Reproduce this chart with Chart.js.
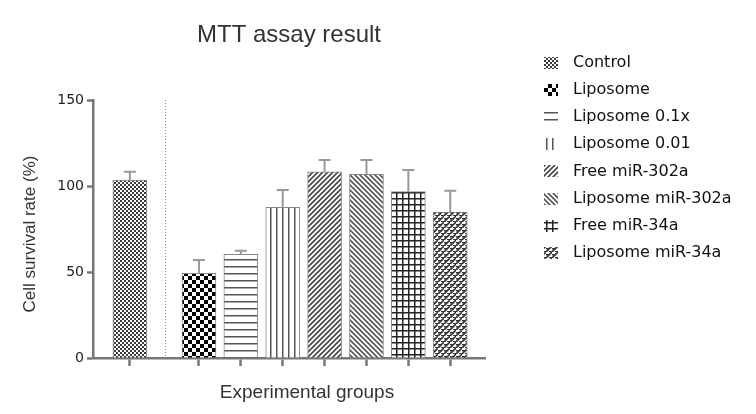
<!DOCTYPE html>
<html>
<head>
<meta charset="utf-8">
<script src="https://cdn.jsdelivr.net/npm/chart.js@4.4.1/dist/chart.umd.min.js"></script>
<style>
  body { margin: 0; background: #fff; }
</style>
</head>
<body>
<canvas id="chart" width="756" height="414"></canvas>
<script>
const groups = ['Control', 'Liposome', 'Liposome 0.1x', 'Liposome 0.01', 'Free miR-302a', 'Liposome miR-302a', 'Free miR-34a', 'Liposome miR-34a'];
const survival = [103.5, 49.2, 60.3, 87.6, 108.3, 106.8, 96.7, 84.9];
const errorUp = [4.8, 7.8, 2.1, 10.1, 6.8, 8.3, 12.6, 12.4];
const yTicks = [0, 50, 100, 150];

// control sits alone, then a gap before the treated groups
function pos(i) { return i === 0 ? 0 : i + 0.65; }
const dividerAt = 0.835;

function tile(size, draw) {
  let c = document.createElement('canvas');
  c.width = size; c.height = size;
  let g = c.getContext('2d');
  g.fillStyle = '#fff';
  g.fillRect(0, 0, size, size);
  draw(g, size);
  return document.getElementById('chart').getContext('2d').createPattern(c, 'repeat');
}

function checker(cell, col) {
  return tile(cell * 2, (g) => {
    g.fillStyle = col;
    g.fillRect(0, 0, cell, cell);
    g.fillRect(cell, cell, cell, cell);
  });
}

function diag(s, col, back) {
  return tile(s, (g) => {
    g.strokeStyle = col;
    g.lineWidth = 1.6;
    let segs = back ? [[0, 0, s, s], [-1, s - 1, 1, s + 1], [s - 1, -1, s + 1, 1]]
                    : [[0, s, s, 0], [-1, 1, 1, -1], [s - 1, s + 1, s + 1, s - 1]];
    segs.forEach(p => { g.beginPath(); g.moveTo(p[0], p[1]); g.lineTo(p[2], p[3]); g.stroke(); });
  });
}

const patterns = [
  checker(2, '#3a3a3a'),
  checker(4, '#000'),
  tile(7, (g) => { g.fillStyle = '#555'; g.fillRect(0, 0, 7, 1.5); }),
  tile(6, (g) => { g.fillStyle = '#555'; g.fillRect(0, 0, 1.5, 6); }),
  diag(5, '#444', false),
  diag(5, '#555', true),
  tile(6, (g) => { g.fillStyle = '#222'; g.fillRect(0, 0, 6, 1.5); g.fillRect(0, 0, 1.5, 6); }),
  tile(6, (g) => {
    g.strokeStyle = '#333'; g.lineWidth = 1.6;
    g.beginPath(); g.moveTo(0, 6); g.lineTo(6, 0); g.stroke();
    g.fillStyle = '#333'; g.fillRect(0, 2, 3, 1.5); g.fillRect(3, 5, 3, 1.5);
  })
];

const extras = {
  id: 'extras',
  afterDatasetsDraw(chart) {
    const ctx = chart.ctx, ys = chart.scales.y, xs = chart.scales.x;
    ctx.save();
    // divider
    ctx.strokeStyle = '#888';
    ctx.lineWidth = 1;
    ctx.setLineDash([1, 2]);
    let dx = Math.round(xs.getPixelForValue(dividerAt)) + 0.5;
    ctx.beginPath(); ctx.moveTo(dx, chart.chartArea.top); ctx.lineTo(dx, chart.chartArea.bottom); ctx.stroke();
    ctx.setLineDash([]);
    // error bars, upper only
    ctx.strokeStyle = '#999';
    ctx.lineWidth = 2;
    chart.data.datasets.forEach((ds, i) => {
      let bar = chart.getDatasetMeta(i).data[0];
      let top = ys.getPixelForValue(survival[i] + errorUp[i]);
      ctx.beginPath();
      ctx.moveTo(bar.x, bar.y); ctx.lineTo(bar.x, top);
      ctx.moveTo(bar.x - 6, top); ctx.lineTo(bar.x + 6, top);
      ctx.stroke();
    });
    ctx.restore();
  },
  afterDraw(chart) {
    const ctx = chart.ctx, a = chart.chartArea;
    ctx.save();
    ctx.fillStyle = '#333';
    ctx.textAlign = 'center';
    ctx.textBaseline = 'alphabetic';
    ctx.font = '24px "Liberation Sans", Arial';
    ctx.fillText('MTT assay result', (a.left + a.right) / 2, 42);
    ctx.font = '19px "Liberation Sans", Arial';
    ctx.fillText('Experimental groups', 307, 398);
    ctx.save();
    ctx.translate(30, 234);
    ctx.rotate(-Math.PI / 2);
    ctx.textBaseline = 'middle';
    ctx.font = '17px "Liberation Sans", Arial';
    ctx.fillText('Cell survival rate (%)', 0, 0);
    ctx.restore();
    // legend
    ctx.textAlign = 'left';
    ctx.textBaseline = 'middle';
    ctx.font = '16px "DejaVu Sans"';
    groups.forEach((g, i) => {
      let y = 63 + i * 27.1;
      ctx.fillStyle = patterns[i];
      ctx.fillRect(544, Math.round(y - 6), 14, 12);
      ctx.fillStyle = '#111';
      ctx.fillText(g, 573, y);
    });
    ctx.restore();
  }
};

new Chart(document.getElementById('chart'), {
  type: 'bar',
  data: {
    datasets: groups.map((g, i) => ({
      label: g,
      data: [{ x: pos(i), y: survival[i] }],
      backgroundColor: patterns[i],
      borderColor: '#888',
      borderWidth: 1,
      borderSkipped: 'bottom',
      barThickness: 34,
      grouped: false
    }))
  },
  options: {
    responsive: false,
    animation: false,
    layout: { padding: { top: 100, right: 271, left: 0, bottom: 0 } },
    plugins: { legend: { display: false }, title: { display: false }, tooltip: { enabled: false } },
    scales: {
      x: {
        type: 'linear',
        min: -0.88,
        max: 8.48,
        offset: false,
        afterBuildTicks: (s) => { s.ticks = groups.map((g, i) => ({ value: pos(i) })); },
        afterFit: (s) => { s.height = 56; },
        ticks: { callback: () => '', padding: 0 },
        grid: { drawOnChartArea: false, tickLength: 8, tickColor: '#777', tickWidth: 2.5, offset: false },
        border: { color: '#777', width: 2.5 }
      },
      y: {
        min: 0,
        max: 150,
        afterBuildTicks: (s) => { s.ticks = yTicks.map(v => ({ value: v })); },
        afterFit: (s) => { s.width = 93; },
        ticks: { color: '#222', font: { family: '"DejaVu Sans", sans-serif', size: 14 }, padding: 3 },
        grid: { drawOnChartArea: false, tickLength: 6, tickColor: '#777', tickWidth: 2.5 },
        border: { color: '#777', width: 2.5 }
      }
    }
  },
  plugins: [extras]
});
</script>
</body>
</html>
